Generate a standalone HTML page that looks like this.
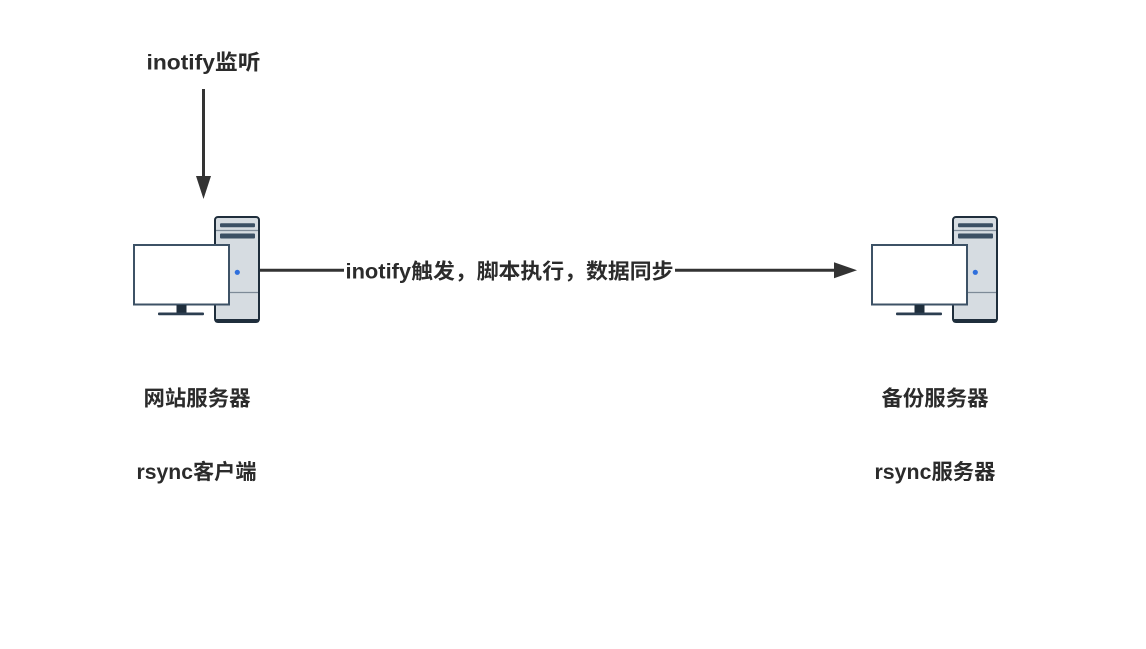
<!DOCTYPE html>
<html>
<head>
<meta charset="utf-8">
<style>
  html, body { margin:0; padding:0; background:#ffffff; }
  body { width:1146px; height:649px; overflow:hidden; }
  svg { display:block; }
  text { font-family: "Liberation Sans", "Noto Sans CJK SC", sans-serif; font-weight:bold; fill:#2b2b2b; font-size:21px; }
</style>
</head>
<body>
<svg width="1146" height="649" viewBox="0 0 1146 649" xmlns="http://www.w3.org/2000/svg">
  <rect x="0" y="0" width="1146" height="649" fill="#ffffff"/>

  <defs>
    <g id="pc">
      <!-- tower -->
      <rect x="215" y="217" width="44" height="105" rx="3" ry="3" fill="#d6dce1" stroke="#1f2e3c" stroke-width="2"/>
      <rect x="215" y="319" width="44" height="3.5" rx="1.5" fill="#1f2e3c"/>
      <line x1="216" y1="230.5" x2="258" y2="230.5" stroke="#7d8a97" stroke-width="1.2"/>
      <line x1="216" y1="292.5" x2="258" y2="292.5" stroke="#7d8a97" stroke-width="1.2"/>
      <rect x="220" y="223.3" width="35" height="4" rx="1" fill="#3b5064"/>
      <rect x="220" y="233.5" width="35" height="5" rx="1" fill="#3b5064"/>
      <circle cx="237.3" cy="272.3" r="2.6" fill="#2f6fdc"/>
      <!-- monitor -->
      <rect x="134" y="245" width="95" height="59.5" fill="#ffffff" stroke="#3d5266" stroke-width="2"/>
      <rect x="176.5" y="305" width="10" height="8" fill="#1f2e3c"/>
      <rect x="158" y="312.5" width="46" height="2.8" rx="1" fill="#2c3e50"/>
    </g>
  </defs>

  <use href="#pc" x="0" y="0"/>
  <use href="#pc" x="738" y="0"/>

  <!-- vertical arrow -->
  <line x1="203.5" y1="89" x2="203.5" y2="178" stroke="#333333" stroke-width="3"/>
  <polygon points="196,176 211,176 203.5,199" fill="#333333"/>

  <!-- horizontal arrow -->
  <line x1="260" y1="270.3" x2="836" y2="270.3" stroke="#333333" stroke-width="3"/>
  <polygon points="834,262.3 857,270.3 834,278.3" fill="#333333"/>
  <rect x="344" y="258" width="331" height="26" fill="#ffffff"/>

  <!-- labels -->
  <text x="203.5" y="63" text-anchor="middle" dominant-baseline="central" textLength="114" lengthAdjust="spacingAndGlyphs">inotify监听</text>
  <text x="509.5" y="272" text-anchor="middle" dominant-baseline="central" textLength="328" lengthAdjust="spacingAndGlyphs">inotify触发，脚本执行，数据同步</text>

  <text x="197" y="399" text-anchor="middle" dominant-baseline="central" textLength="107" lengthAdjust="spacingAndGlyphs">网站服务器</text>
  <text x="196.5" y="472.5" text-anchor="middle" dominant-baseline="central" textLength="120" lengthAdjust="spacingAndGlyphs">rsync客户端</text>

  <text x="935" y="399" text-anchor="middle" dominant-baseline="central" textLength="107" lengthAdjust="spacingAndGlyphs">备份服务器</text>
  <text x="935" y="472.5" text-anchor="middle" dominant-baseline="central" textLength="121" lengthAdjust="spacingAndGlyphs">rsync服务器</text>
</svg>
</body>
</html>
